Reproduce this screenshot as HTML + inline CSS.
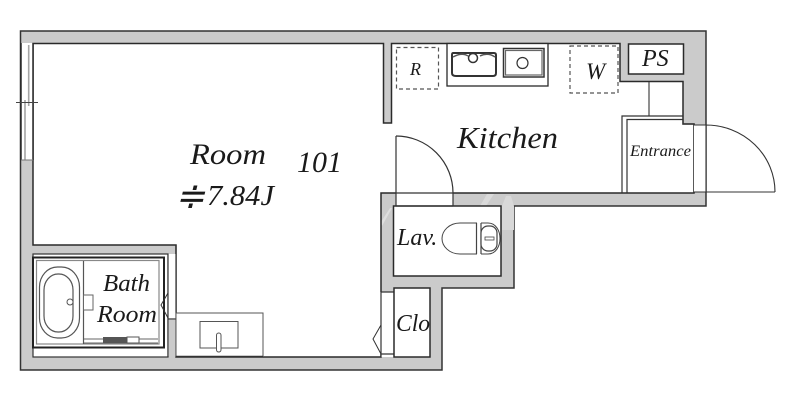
<!DOCTYPE html>
<html><head><meta charset="utf-8"><style>
html,body{margin:0;padding:0;background:#fff}
svg{display:block}
text{font-family:"Liberation Serif",serif;font-style:italic;fill:#1a1a1a}
</style></head><body>
<svg width="800" height="400" viewBox="0 0 800 400" xmlns="http://www.w3.org/2000/svg">
<rect width="800" height="400" fill="#fff"/>
<!-- outer wall -->
<polygon points="20.5,31 706,31 706,206 514,206 514,288 442,288 442,370 20.5,370" fill="#cbcbcb" stroke="#333" stroke-width="1.500"/>
<!-- watermark streaks -->
<polygon points="381,222 390,208 392,208 382,226" fill="#dedede"/>
<polygon points="480,206 487,194 494,194 486,206" fill="#dadada"/>
<polygon points="502,206 506,196 511,196 514,206 514,230 502,230" fill="#d8d8d8"/>
<!-- room + kitchen white -->
<path d="M33,43.500 H383.500 V123 H391.500 V43.500 H620 V81.500 H683 V124 H694 V193 H453 V206 H396 V193 H381 V357 H176 V245 H33 Z" fill="#fff"/>
<path d="M33,160 V43.500 H383.500 V123 H391.500 V43.500 H620 V81.500 H683 V124 H694 V193 H453 M396,193 H381 V292 M381,354 V357 H176 V245 H33 V160" fill="none" stroke="#2a2a2a" stroke-width="1.500"/>
<!-- window -->
<rect x="20.500" y="43" width="12.500" height="117" fill="#fff"/>
<path d="M21,43 V160 M33,43 V160" stroke="#2a2a2a" stroke-width="1.500"/>
<path d="M28.700,45 V106 M25,100 V160" stroke="#a5a5a5" stroke-width="1.600"/>
<path d="M16,102.500 H38" stroke="#444" stroke-width="1"/>
<path d="M21,160 H33" stroke="#777" stroke-width="1"/>
<!-- bath -->
<rect x="33" y="254" width="135" height="103" fill="#fff" stroke="#333" stroke-width="1.200"/>
<rect x="168" y="254" width="8" height="65" fill="#fff"/>
<path d="M168,254 V357 M176,245 V357 M168,319 H176" stroke="#333" stroke-width="1.200"/>
<rect x="168.600" y="319.600" width="6.800" height="36.800" fill="#cbcbcb"/>
<rect x="33" y="257.500" width="131" height="90" fill="#fff" stroke="#222" stroke-width="2"/>
<rect x="36.500" y="260.500" width="122.500" height="83.500" fill="#fff" stroke="#888" stroke-width="1.200"/>
<path d="M83.500,261 V344" stroke="#555" stroke-width="1.200"/>
<rect x="39.500" y="267" width="40" height="71" rx="18" ry="20" fill="#fff" stroke="#555" stroke-width="1.200"/>
<rect x="44" y="274" width="29" height="58" rx="14" ry="16" fill="#fff" stroke="#555" stroke-width="1.200"/>
<circle cx="70" cy="302" r="3" fill="#fff" stroke="#555"/>
<rect x="83.500" y="295" width="9.500" height="15" fill="#fff" stroke="#666"/>
<path d="M84,339 H158 M84,343 H158" stroke="#666" stroke-width="1"/>
<rect x="103" y="337" width="24" height="6" fill="#555"/>
<rect x="127" y="337" width="12" height="6" fill="#fff" stroke="#555"/>
<path d="M168,293 L161,305 L168,318" fill="none" stroke="#333" stroke-width="1"/>
<!-- vanity -->
<rect x="176" y="313" width="87" height="43.500" fill="#fff" stroke="#555" stroke-width="1"/>
<path d="M176,356.500 H263" stroke="#333" stroke-width="1.500"/>
<rect x="200" y="321.500" width="38" height="26.500" fill="#fff" stroke="#555" stroke-width="1"/>
<rect x="216.500" y="333" width="4.500" height="19" rx="2.200" fill="#fff" stroke="#555" stroke-width="1"/>
<!-- lav -->
<rect x="393.500" y="206" width="107.500" height="70" fill="#fff" stroke="#2a2a2a" stroke-width="1.500"/>
<path d="M477,223 H460 C449,223 442,231 442,238.500 C442,246 449,254 460,254 H477" fill="none" stroke="#444" stroke-width="1"/>
<path d="M476.500,223 V254 M481,223 V254" stroke="#444" stroke-width="1.200"/>
<path d="M481,223 H488 C496,223 500,231 500,238.500 C500,246 496,254 488,254 H481" fill="none" stroke="#444" stroke-width="1"/>
<rect x="481" y="226" width="16" height="25" rx="7" fill="#fff" stroke="#444" stroke-width="1.200"/>
<rect x="485" y="237" width="9" height="3" fill="#fff" stroke="#444" stroke-width="0.800"/>
<!-- clo -->
<rect x="381" y="292" width="13" height="65" fill="#fff"/>
<path d="M381,292 H394 M381,292 V357 M381,354 H394" stroke="#333" stroke-width="1.200"/>
<rect x="394" y="288" width="36" height="69" fill="#fff" stroke="#2a2a2a" stroke-width="1.500"/>
<path d="M381,325 L373,339 L381,354" fill="none" stroke="#333" stroke-width="1"/>
<!-- lav door -->
<path d="M396,136 V206 M396,206 H453 M396,193 H453" fill="none" stroke="#333" stroke-width="1.200"/>
<path d="M396,136 A57,57 0 0 1 453,193 V206" fill="none" stroke="#333" stroke-width="1.200"/>
<!-- kitchen fixtures -->
<rect x="396.500" y="47.500" width="42" height="41.500" fill="none" stroke="#555" stroke-width="1.200" stroke-dasharray="4 3"/>
<rect x="570" y="46" width="48" height="47" fill="none" stroke="#555" stroke-width="1.200" stroke-dasharray="4 3"/>
<rect x="447" y="43.500" width="101" height="42.500" fill="#fff" stroke="#2a2a2a" stroke-width="1.300"/>
<path d="M453,53 H494 Q496,53 496,55 V73 Q496,76 493,76 H456 Q452,76 452,73 V55 Q452,53 453,53 Z" fill="#fff" stroke="#333" stroke-width="2"/>
<path d="M453,57 Q462,52 468,56 M480,56 Q488,52 495,57" fill="none" stroke="#555" stroke-width="1.500"/>
<circle cx="473" cy="58" r="4.500" fill="#fff" stroke="#333" stroke-width="1.500"/>
<rect x="503.500" y="48.500" width="40.500" height="28.500" fill="#fff" stroke="#333" stroke-width="1.500"/>
<rect x="505.500" y="50.500" width="36.500" height="24.500" fill="#fff" stroke="#666" stroke-width="1.200"/>
<circle cx="522.500" cy="63" r="5.500" fill="#fff" stroke="#333" stroke-width="1.200"/>
<!-- PS -->
<rect x="628.500" y="44" width="55" height="30" fill="#fff" stroke="#2a2a2a" stroke-width="1.500"/>
<path d="M649,82 V116" stroke="#444" stroke-width="1.200"/>
<!-- entrance -->
<path d="M622,193 V116 H683 M627,193 V119.500 H683 V124 H694 V193" fill="none" stroke="#333" stroke-width="1.200"/>
<!-- main door -->
<rect x="694" y="125" width="12" height="67.500" fill="#fff"/>
<path d="M694,125 H706 M694,192 H775 M706,125 V192 M706,125 A69,67 0 0 1 775,192" fill="none" stroke="#333" stroke-width="1.100"/>
<!-- text -->
<text x="190" y="164" font-size="30" textLength="76" lengthAdjust="spacingAndGlyphs">Room</text>
<text x="297" y="172" font-size="30" textLength="45">101</text>
<text x="175" y="208" font-size="36" font-style="normal" textLength="30" lengthAdjust="spacingAndGlyphs">≑</text>
<text x="207" y="205" font-size="29" textLength="67" lengthAdjust="spacingAndGlyphs">7.84J</text>
<text x="457" y="148" font-size="31" textLength="101" lengthAdjust="spacingAndGlyphs">Kitchen</text>
<text x="410" y="75" font-size="18">R</text>
<text x="586" y="79" font-size="23">W</text>
<text x="642" y="66" font-size="24">PS</text>
<text x="630" y="156" font-size="15.500" textLength="61" lengthAdjust="spacingAndGlyphs">Entrance</text>
<text x="397" y="245" font-size="24">Lav.</text>
<text x="396" y="331" font-size="24" textLength="34" lengthAdjust="spacingAndGlyphs">Clo</text>
<text x="103" y="291" font-size="24" textLength="47" lengthAdjust="spacingAndGlyphs">Bath</text>
<text x="97" y="322" font-size="24" textLength="60" lengthAdjust="spacingAndGlyphs">Room</text>
</svg>
</body></html>
